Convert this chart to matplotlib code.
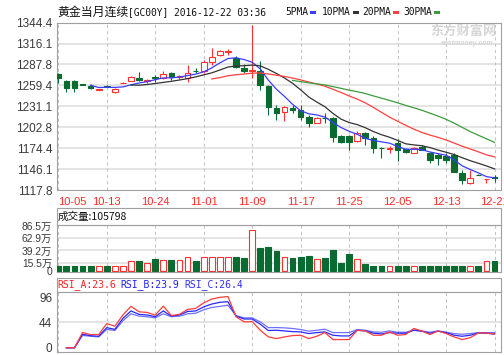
import numpy as np
import pandas as pd
import matplotlib
matplotlib.use('Agg')
import matplotlib.pyplot as plt
from matplotlib.patches import Rectangle

# ---- data (daily bars, 10-05 .. 12-21) ----
opens = [1274.6, 1265.9, 1265.9, 1261.0, 1259.2, 1253.8, 1259.2, 1250.6, 1262.8, 1265.5,
         1270.0, 1265.6, 1270.2, 1269.2, 1275.9, 1271.0, 1269.2, 1279.4, 1279.5, 1290.8,
         1301.1, 1305.3, 1296.6, 1283.1, 1279.0, 1278.6, 1258.3, 1229.4, 1223.6, 1229.4,
         1226.3, 1217.2, 1209.1, 1215.6, 1215.1, 1191.1, 1191.1, 1184.7, 1194.8, 1188.0,
         1174.8, 1174.0, 1182.0, 1173.1, 1168.5, 1176.6, 1167.7, 1165.4, 1164.0, 1165.4,
         1140.6, 1127.9, 1138.6, 1132.6, 1135.0]
highs = [1276.0, 1266.9, 1266.5, 1262.0, 1260.8, 1254.8, 1259.8, 1255.8, 1263.8, 1272.0,
         1277.3, 1268.6, 1273.6, 1278.6, 1278.1, 1274.0, 1287.2, 1282.4, 1294.3, 1310.2,
         1307.9, 1309.2, 1298.9, 1288.5, 1340.9, 1293.0, 1260.5, 1233.0, 1231.5, 1233.0,
         1233.0, 1219.5, 1217.2, 1221.8, 1217.2, 1192.5, 1192.5, 1198.3, 1196.9, 1191.1,
         1176.6, 1177.5, 1186.6, 1174.9, 1176.0, 1178.9, 1169.9, 1167.7, 1167.7, 1167.7,
         1145.1, 1145.1, 1139.0, 1133.2, 1138.3]
lows = [1262.4, 1251.0, 1251.0, 1259.5, 1254.7, 1253.3, 1257.0, 1249.8, 1262.3, 1265.0,
        1265.9, 1262.4, 1264.6, 1267.8, 1266.9, 1268.0, 1264.6, 1276.0, 1276.3, 1287.6,
        1298.9, 1301.1, 1283.1, 1276.3, 1269.6, 1253.8, 1219.9, 1212.8, 1211.8, 1222.6,
        1212.8, 1202.9, 1208.3, 1208.3, 1183.4, 1182.0, 1172.2, 1183.4, 1178.3, 1168.5,
        1160.9, 1167.7, 1157.7, 1168.0, 1167.7, 1171.5, 1154.2, 1151.9, 1154.2, 1141.7,
        1126.2, 1126.3, 1137.5, 1127.9, 1129.3]
closes = [1269.2, 1256.5, 1255.6, 1260.3, 1256.5, 1254.3, 1257.8, 1255.1, 1263.4, 1270.9,
          1266.9, 1266.2, 1269.0, 1275.4, 1271.3, 1271.6, 1276.7, 1278.8, 1290.8, 1298.0,
          1305.7, 1305.9, 1284.1, 1278.6, 1280.0, 1260.5, 1229.9, 1222.6, 1229.9, 1226.3,
          1217.2, 1209.1, 1215.1, 1215.1, 1189.4, 1183.4, 1183.4, 1194.8, 1188.0, 1174.5,
          1174.3, 1174.8, 1172.2, 1169.0, 1174.5, 1172.2, 1158.6, 1160.9, 1158.6, 1142.8,
          1131.6, 1133.9, 1138.0, 1133.0, 1134.4]
# volume in 万
volume = [9.5, 9.5, 9.5, 9.5, 9.5, 8.8, 9.5, 8.8, 8.8, 18.9,
          19.6, 15.8, 22.1, 20.2, 20.2, 20.2, 27.1, 18.3, 25.9, 27.1,
          25.9, 25.9, 27.1, 25.2, 77.6, 43.5, 45.4, 37.9, 27.1, 25.2,
          27.1, 29.0, 22.1, 25.2, 40.4, 15.8, 32.2, 23.3, 12.6, 8.8,
          8.8, 8.8, 8.8, 8.8, 8.8, 8.8, 8.8, 8.8, 8.8, 8.8,
          8.8, 8.8, 8.8, 19.6, 18.3]
nan = np.nan
rsi_a = [nan, 0, 0, 26.5, 23, 23, 42, 37.5, 57, 72, 62.5, 61.4, 56.7, 72.4, 56, 58, 66.6, 68.4,
         78, 84.6, 87.6, 89, 54, 45, 45.5, 30.5, 19, 16, 18.9, 21.2, 21.8, 16, 20, 26.5, 14.3,
         14.3, 14.3, 30.5, 29.3, 21.8, 21.8, 27.6, 21.8, 23, 33.5, 29.3, 23, 29.3, 24.7, 18.9,
         14.3, 17.6, 25.8, 25.8, 23.6]
rsi_b = [nan, 0, 0, 23.5, 21, 20, 35, 32, 51, 64, 58, 57, 54, 64, 55, 57, 63, 64, 71, 76, 79,
         80, 55, 50, 50, 41, 30, 30.5, 29.3, 28.1, 27.6, 24.7, 26.4, 27.6, 21.8, 20.6, 20.6,
         30.5, 29.3, 25.3, 24.1, 26.4, 25.3, 25.3, 30.5, 28.8, 25.3, 28.8, 26.4, 21.8, 20,
         21.8, 25.8, 25.3, 23.9]
rsi_c = [nan, 0, 0, 21.5, 20, 19, 32, 30, 47, 59, 55, 54, 52, 59, 54, 55, 59, 60, 66, 70, 72,
         74, 56, 52, 52, 45, 35, 35.2, 34.6, 33.5, 31.7, 28.8, 30.5, 32.3, 26.4, 26.4, 26.4,
         31.7, 30.5, 27.6, 27, 29.3, 27, 27, 30.5, 29.3, 27, 29.3, 27, 24.7, 23.5, 24.7,
         26.4, 26.4, 26.4]

date_labels = ['10-05', '10-13', '10-24', '11-01', '11-09', '11-17', '11-25', '12-05', '12-13', '12-21']
date_pos = list(range(0, 55, 6))
price_ticks = [1117.8, 1146.1, 1174.4, 1202.8, 1231.1, 1259.4, 1287.8, 1316.1, 1344.4]
vol_ticks = [0, 15.5, 39.2, 62.9, 86.5]
vol_labels = ['0', '15.5万', '39.2万', '62.9万', '86.5万']
rsi_ticks = [0, 44, 96]
ma_periods = [5, 10, 20, 30]

# ---- style ----
W, H = 504, 355
UP = '#ff3030'
DOWN = '#0a6a30'
FRAME = '#a0a0a0'
GRID = '#dcdcdc'
VGRID = '#c4c4c4'
TXT = '#3a3a3a'
ma_colors = ['#3c3cff', '#333333', '#ff4040', '#3c9c3c']

plt.rcParams['font.family'] = ['Liberation Sans', 'Noto Sans CJK SC']


def px_box(x0, y0, x1, y1):
    return [x0 / W, 1 - y1 / H, (x1 - x0) / W, (y1 - y0) / H]


def fx(x):
    return x / W


def fy(y):
    return 1 - y / H


def style_axes(ax):
    ax.set_xlim(-0.16, 54.8)
    for s in ax.spines.values():
        s.set_color(FRAME)
        s.set_linewidth(0.8)
    ax.tick_params(length=0, labelsize=8.5, labelcolor=TXT, pad=3.5)
    for p in date_pos:
        ax.axvline(p, color=VGRID, lw=0.75, ls=(0, (3, 3)), zorder=1)


n = len(closes)
x = np.arange(n)
up = [closes[i] >= opens[i] for i in range(n)]
cols = [UP if u else DOWN for u in up]

fig = plt.figure(figsize=(W / 100, H / 100), dpi=100)
fig.patch.set_facecolor('white')

# ---- price panel ----
ax1 = fig.add_axes(px_box(57, 22.7, 501, 190))
style_axes(ax1)
ax1.set_ylim(1117.8, 1344.4)
ax1.set_yticks(price_ticks)
ax1.set_yticklabels(['%.1f' % v for v in price_ticks])
for v in price_ticks[1:-1]:
    ax1.axhline(v, color=GRID, lw=1.1, zorder=0.5)
ax1.set_xticks(date_pos)
ax1.set_xticklabels(date_labels)
ax1.tick_params(axis='x', labelcolor='#ff2a2a', labelsize=8, pad=5)
ax1.get_xticklabels()[0].set_ha('left')

for i in range(n):
    lo, hi = min(opens[i], closes[i]), max(opens[i], closes[i])
    ax1.vlines(i, lows[i], highs[i], color=cols[i], lw=0.8, zorder=3)
    ax1.bar(i, hi - lo, bottom=lo, width=0.7, facecolor='white' if up[i] else DOWN,
            edgecolor=cols[i], lw=0.8, zorder=4)

cs = pd.Series(closes)
for p, c in zip(ma_periods, ma_colors):
    ax1.plot(x, cs.rolling(p).mean(), color=c, lw=0.9, zorder=5)

# ---- volume panel ----
ax2 = fig.add_axes(px_box(57, 225.3, 501, 272))
style_axes(ax2)
ax2.set_ylim(-1.9, 87.3)
ax2.set_yticks(vol_ticks)
ax2.set_yticklabels(vol_labels)
ax2.tick_params(axis='y', labelsize=7.4)
ax2.set_xticks([])
for v in vol_ticks[1:4]:
    ax2.axhline(v, color=GRID, lw=1.1, zorder=0.5)
ax2.bar(x, volume, width=0.72, color=['white' if u else DOWN for u in up],
        edgecolor=cols, lw=0.8, zorder=3)

# ---- RSI panel ----
ax3 = fig.add_axes(px_box(57, 291.7, 501, 352))
style_axes(ax3)
ax3.set_ylim(-7.3, 97.4)
ax3.set_yticks(rsi_ticks)
ax3.set_yticklabels([str(v) for v in rsi_ticks])
ax3.get_yticklabels()[-1].set_va('top')
ax3.set_xticks([])
ax3.axhline(44, color=GRID, lw=1.1, zorder=0.5)
ax3.plot(x, rsi_c, color='#7070ff', lw=0.9, zorder=3)
ax3.plot(x, rsi_b, color='#2828ff', lw=0.9, zorder=4)
ax3.plot(x, rsi_a, color='#ff3c3c', lw=0.9, zorder=5)

# ---- header boxes ----
for y0, y1 in [(208.3, 225.3), (278.3, 291.7)]:
    fig.patches.append(Rectangle((fx(57), fy(y1)), (501 - 57) / W, (y1 - y0) / H,
                                 transform=fig.transFigure, fill=False,
                                 edgecolor=FRAME, lw=0.8))

fig.text(fx(58), fy(216.7), '成交量:105798', fontsize=7.6, va='center',
         family=['Noto Sans CJK SC'], color='#111111')
for xt, s, c in [(57, 'RSI_A:23.6', '#ff2020'), (120, 'RSI_B:23.9', '#2020ff'),
                 (184, 'RSI_C:26.4', '#3030ff')]:
    fig.text(fx(xt), fy(285), s, fontsize=7, va='center', family='DejaVu Sans Mono', color=c)

# ---- title and MA legend ----
fig.text(fx(57), fy(12.3), '黄金当月连续', fontsize=8.6, va='center',
         family=['Noto Sans CJK SC'], color='#111111')
fig.text(fx(128), fy(12.3), '[GC00Y] 2016-12-22 03:36', fontsize=6.9, va='center',
         family='DejaVu Sans Mono', color='#111111')
for xt, p, c in zip([285, 322, 362, 403], ma_periods, ma_colors):
    lab = '%dPMA' % p
    fig.text(fx(xt), fy(12.3), lab, fontsize=6.9, va='center',
             family='DejaVu Sans Mono', color='#111111')
    x0 = xt + len(lab) * 5.8 + 2
    fig.patches.append(Rectangle((fx(x0), fy(13.5)), 6 / W, 2.2 / H,
                                 transform=fig.transFigure, color=c, lw=0))

# watermark
fig.text(fx(463), fy(30.5), '东方财富网', fontsize=9.5, ha='center', va='center',
         family=['Noto Sans CJK SC'], weight='bold', color='#d6d6d6')
fig.text(fx(467), fy(43.5), 'eastmoney.com', fontsize=5, ha='center', va='center',
         style='italic', weight='bold', color='#d6d6d6')

fig.savefig('out.png', dpi=100, facecolor='white')
